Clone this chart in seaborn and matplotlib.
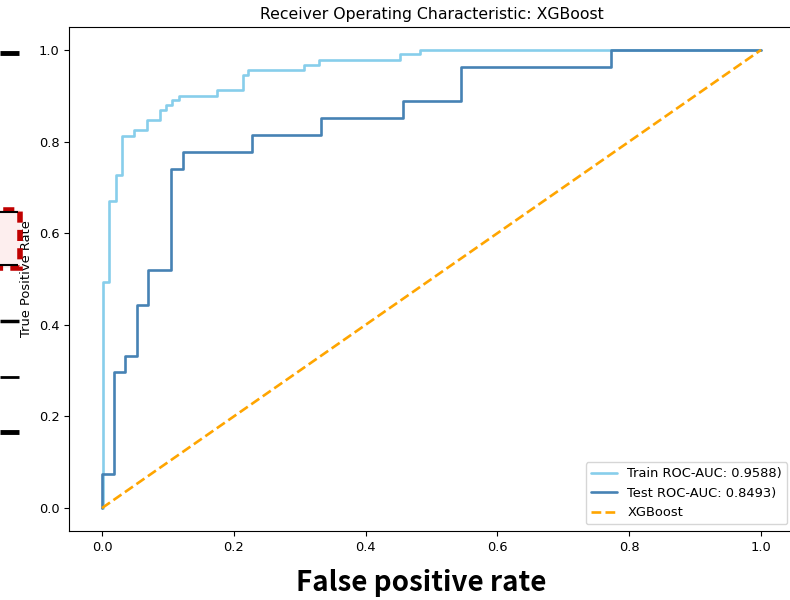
import matplotlib
matplotlib.use("Agg")
import matplotlib.pyplot as plt
import seaborn as sns
import pandas as pd
from matplotlib.lines import Line2D
from matplotlib.patches import Rectangle

# ROC curve points
train_fpr = [0.0, 0.002, 0.002, 0.011, 0.011, 0.021, 0.021, 0.030, 0.030, 0.049, 0.049,
             0.069, 0.069, 0.088, 0.088, 0.097, 0.097, 0.106, 0.106, 0.117, 0.117,
             0.175, 0.175, 0.214, 0.214, 0.222, 0.222, 0.307, 0.307, 0.329, 0.329,
             0.452, 0.452, 0.482, 0.482, 1.0]
train_tpr = [0.0, 0.0, 0.494, 0.494, 0.670, 0.670, 0.726, 0.726, 0.812, 0.812, 0.825,
             0.825, 0.847, 0.847, 0.868, 0.868, 0.880, 0.880, 0.891, 0.891, 0.900,
             0.900, 0.912, 0.912, 0.946, 0.946, 0.956, 0.956, 0.968, 0.968, 0.978,
             0.978, 0.990, 0.990, 1.0, 1.0]

test_fpr = [0.0, 0.0, 0.018, 0.018, 0.035, 0.035, 0.053, 0.053, 0.070, 0.070, 0.105,
            0.105, 0.123, 0.123, 0.228, 0.228, 0.333, 0.333, 0.456, 0.456, 0.544,
            0.544, 0.772, 0.772, 1.0]
test_tpr = [0.0, 0.074, 0.074, 0.296, 0.296, 0.333, 0.333, 0.444, 0.444, 0.519, 0.519,
            0.741, 0.741, 0.778, 0.778, 0.815, 0.815, 0.852, 0.852, 0.889, 0.889,
            0.963, 0.963, 1.0, 1.0]

diag_x = [0.0, 1.0]
diag_y = [0.0, 1.0]

train_label = "Train ROC-AUC: 0.9588)"
test_label = "Test ROC-AUC: 0.8493)"
diag_label = "XGBoost"
title = "Receiver Operating Characteristic: XGBoost"
xlabel = "False positive rate"
ylabel = "True Positive Rate"

sns.set_style("ticks")
plt.rcParams['font.family'] = ['DejaVu Sans']
plt.rcParams['text.color'] = 'black'
plt.rcParams['axes.labelcolor'] = 'black'

fig = plt.figure(figsize=(7.9, 6.0), dpi=100)
W, H = 790, 600
ax = fig.add_axes([69 / W, 1 - 531 / H, 725 / W, 504 / H])

df_train = pd.DataFrame({"fpr": train_fpr, "tpr": train_tpr})
df_test = pd.DataFrame({"fpr": test_fpr, "tpr": test_tpr})
df_diag = pd.DataFrame({"fpr": diag_x, "tpr": diag_y})

common = dict(x="fpr", y="tpr", sort=False, estimator=None, errorbar=None, ax=ax)
sns.lineplot(data=df_train, color="skyblue", linewidth=1.9, label=train_label, **common)
sns.lineplot(data=df_test, color="steelblue", linewidth=1.9, label=test_label, **common)
sns.lineplot(data=df_diag, color="orange", linewidth=1.9, linestyle="--",
             label=diag_label, **common)

ax.set_xlim(-0.05, 1.05)
ax.set_ylim(-0.05, 1.05)
ax.set_xticks([0.0, 0.2, 0.4, 0.6, 0.8, 1.0])
ax.set_yticks([0.0, 0.2, 0.4, 0.6, 0.8, 1.0])
ax.tick_params(labelsize=9.4, length=3.5, width=0.8, color="black", labelcolor="black")
for s in ax.spines.values():
    s.set_color("black")
    s.set_linewidth(0.8)

ax.set_title(title, fontsize=11.3, pad=6, color="black")
ax.set_ylabel(ylabel, fontsize=9.4, color="black")
ax.set_xlabel(xlabel, fontsize=20, fontweight="bold", color="black",
              family=["Noto Sans CJK KR", "DejaVu Sans"])
ax.xaxis.set_label_coords((421 - 69) / 725, (531 - 569) / 504)

leg = ax.legend(loc="lower right", fontsize=9.4, frameon=True)
leg.get_frame().set_edgecolor("#cccccc")
for t in leg.get_texts():
    t.set_color("black")

# screenshot artefacts at the left edge
def fy(py):
    return 1 - py / H

for py, lw in [(53, 3.5), (321, 2.5), (377, 2), (432, 3.5)]:
    fig.add_artist(Line2D([0, 19 / W], [fy(py), fy(py)], color="black", linewidth=lw,
                          solid_capstyle="butt", transform=fig.transFigure))
fig.add_artist(Rectangle((-0.01, fy(268)), 20 / W + 0.01, 58 / H, transform=fig.transFigure,
                         facecolor="#fdeeee", edgecolor="#c00000", linewidth=4,
                         linestyle=(0, (2, 1.3))))
for py in [212, 265]:
    fig.add_artist(Line2D([0, 18 / W], [fy(py), fy(py)], color="black", linewidth=1.5,
                          solid_capstyle="butt", transform=fig.transFigure))

fig.savefig("out.png", dpi=100)
